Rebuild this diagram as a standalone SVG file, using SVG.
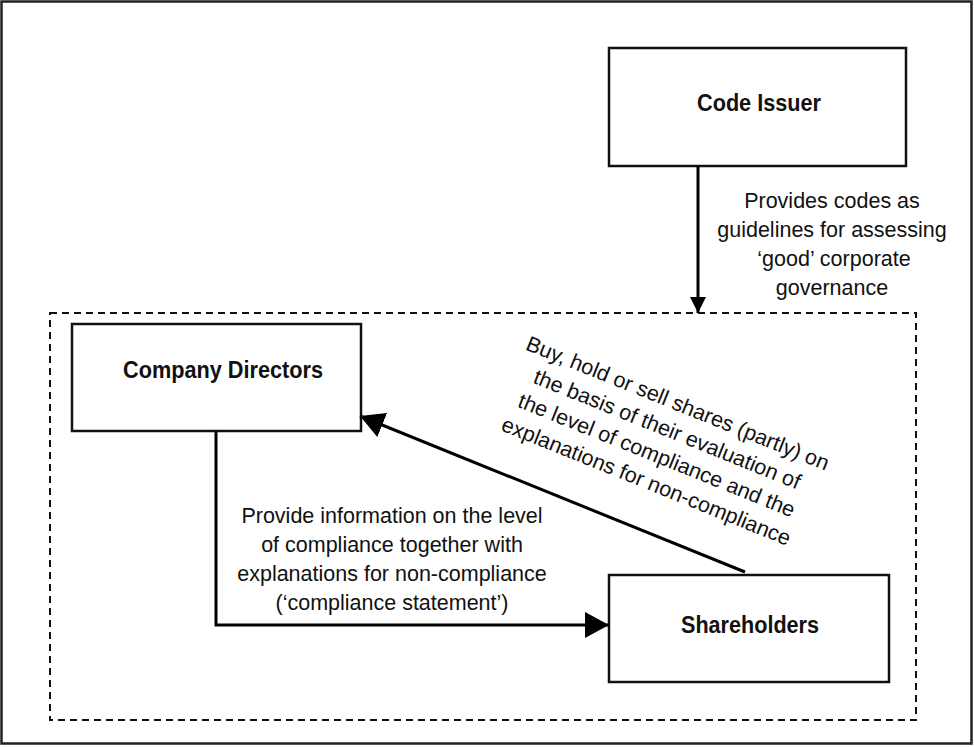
<svg xmlns="http://www.w3.org/2000/svg" width="974" height="747" viewBox="0 0 974 747">
<style>
.box{fill:#fff;stroke:#111;stroke-width:2.5}
.lbl{font-family:"Liberation Sans",Arial,sans-serif;font-weight:bold;font-size:23px;fill:#111;text-anchor:middle}
.txt{font-family:"Liberation Sans",Arial,sans-serif;font-size:21.5px;fill:#111;text-anchor:middle}
.con{fill:none;stroke:#000;stroke-width:3}
</style>
<defs>
<marker id="ahS" viewBox="0 0 16 16" refX="16" refY="8" markerWidth="16" markerHeight="16" markerUnits="userSpaceOnUse" orient="auto"><path d="M0,0 L16,8 L0,16 z" fill="#000"/></marker>
<marker id="ahL" viewBox="0 0 24 26" refX="24" refY="13" markerWidth="24" markerHeight="26" markerUnits="userSpaceOnUse" orient="auto"><path d="M0,0 L24,13 L0,26 z" fill="#000"/></marker>
</defs>
<rect x="0" y="0" width="974" height="747" fill="#fff"/>
<rect x="1.5" y="1.5" width="970" height="742" fill="none" stroke="#222" stroke-width="2.5"/>
<rect id="boundary" x="50" y="313" width="866" height="407" fill="none" stroke="#111" stroke-width="2" stroke-dasharray="7,5"/>
<g id="code-issuer"><rect class="box" x="609" y="48" width="297" height="118"/><text class="lbl" x="759" y="111" textLength="124" lengthAdjust="spacingAndGlyphs">Code Issuer</text></g>
<g id="company-directors"><rect class="box" x="72" y="324" width="289" height="107"/><text class="lbl" x="223" y="378" textLength="200" lengthAdjust="spacingAndGlyphs">Company Directors</text></g>
<g id="shareholders"><rect class="box" x="609" y="575" width="280" height="107"/><text class="lbl" x="750" y="633" textLength="138" lengthAdjust="spacingAndGlyphs">Shareholders</text></g>
<g id="connectors">
<path class="con" d="M698,166 V313" marker-end="url(#ahS)"/>
<path class="con" d="M216,431 V625 H609" marker-end="url(#ahL)"/>
<path class="con" d="M745,572 L360,416" marker-end="url(#ahL)"/>
</g>
<g id="labels">
<text class="txt" x="832" y="208">Provides codes as</text>
<text class="txt" x="832" y="237">guidelines for assessing</text>
<text class="txt" x="834" y="266">‘good’ corporate</text>
<text class="txt" x="832" y="295">governance</text>
<text class="txt" x="392" y="523">Provide information on the level</text>
<text class="txt" x="392" y="552">of compliance together with</text>
<text class="txt" x="392" y="581">explanations for non-compliance</text>
<text class="txt" x="392" y="610">(‘compliance statement’)</text>
<g transform="translate(675,410) rotate(22)">
<text class="txt" x="0" y="0">Buy, hold or sell shares (partly) on</text>
<text class="txt" x="0" y="28">the basis of their evaluation of</text>
<text class="txt" x="0" y="56">the level of compliance and the</text>
<text class="txt" x="0" y="84">explanations for non-compliance</text>
</g>
</g>
</svg>
